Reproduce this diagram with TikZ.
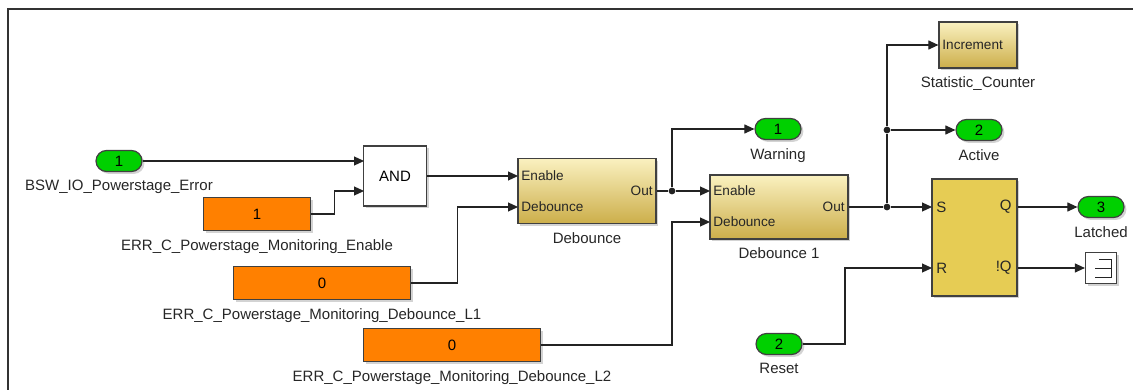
\documentclass[tikz,border=0pt]{standalone}
\usepackage{fontspec}
\setmainfont{Liberation Sans}
\usetikzlibrary{arrows.meta, positioning, calc, shadows}
\definecolor{inpfill}{RGB}{0,208,0}
\definecolor{cstfill}{RGB}{255,128,0}
\definecolor{blktop}{RGB}{250,241,192}
\definecolor{blkbot}{RGB}{204,174,74}
\definecolor{srfill}{RGB}{230,204,84}
\definecolor{sigline}{RGB}{35,35,35}

\begin{document}
\begin{tikzpicture}[
  x=0.5pt, y=-0.5pt,
  font=\fontsize{7.5}{9}\selectfont,
  shd/.style={drop shadow={shadow xshift=1.2pt, shadow yshift=-1.2pt, opacity=0.35}},
  blk/.style={draw=black!75, line width=0.6pt, inner sep=0pt, shd},
  inport/.style={blk, fill=inpfill, rounded corners=5.25pt, minimum width=23pt, minimum height=10.5pt},
  cst/.style={blk, fill=cstfill, minimum height=16.5pt},
  gate/.style={blk, fill=white, minimum width=31.5pt, minimum height=30pt},
  sub/.style={blk, top color=blktop, bottom color=blkbot},
  lbl/.style={inner sep=0pt, text=black!85},
  port/.style={inner sep=0pt, font=\fontsize{6.8}{8}\selectfont, text=black!85},
  sig/.style={draw=sigline, line width=0.55pt, -{Triangle[length=5pt, width=4.5pt]}},
  wire/.style={draw=sigline, line width=0.55pt},
  dot/.style={circle, fill=sigline, inner sep=0pt, minimum size=3.4pt},
  node distance=4pt,
]
\useasboundingbox (0,0) rectangle (1133,390);
\draw[black!80, line width=1pt] (8,390) -- (8,9) -- (1133,9);

% sources
\node[inport] (in1) at (119,161) {1};
\node[lbl, below=4pt of in1] (in1lbl) {BSW\_IO\_Powerstage\_Error};
\node[cst, minimum width=53.5pt] (c1) at (257,214) {1};
\node[lbl, below=4pt of c1] (c1lbl) {ERR\_C\_Powerstage\_Monitoring\_Enable};
\node[cst, minimum width=88.5pt] (c2) at (322,283) {0};
\node[lbl, below=4pt of c2] (c2lbl) {ERR\_C\_Powerstage\_Monitoring\_Debounce\_L1};
\node[cst, minimum width=88.5pt] (c3) at (452,345) {0};
\node[lbl, below=4pt of c3] (c3lbl) {ERR\_C\_Powerstage\_Monitoring\_Debounce\_L2};
\node[inport] (rst) at (779,344) {2};
\node[lbl, below=4pt of rst] (rstlbl) {Reset};

% logic
\node[gate] (and) at (395,176) {AND};
\coordinate (andA) at (364,161);
\coordinate (andB) at (364,191);

\node[sub, minimum width=69pt, minimum height=32.5pt] (deb) at (587,191) {};
\node[lbl, below=4pt of deb] (deblbl) {Debounce};
\node[port, anchor=west] (debEnT) at (521,176) {Enable};
\node[port, anchor=west] (debDbT) at (521,207) {Debounce};
\node[port, anchor=east] (debOutT) at (653,191) {Out};
\coordinate (debEn) at (518,176);
\coordinate (debDb) at (518,207);

\node[sub, minimum width=69pt, minimum height=32pt] (db1) at (779,207) {};
\node[lbl, below=4pt of db1] (db1lbl) {Debounce 1};
\node[port, anchor=west] (db1EnT) at (713,191) {Enable};
\node[port, anchor=west] (db1DbT) at (713,222) {Debounce};
\node[port, anchor=east] (db1OutT) at (845,207) {Out};
\coordinate (db1En) at (710,191);
\coordinate (db1Db) at (710,222);

\node[sub, minimum width=39pt, minimum height=23pt] (cnt) at (978,45) {};
\node[port, anchor=west] (cntT) at (942,45) {Increment};
\node[lbl, below=4pt of cnt] (cntlbl) {Statistic\_Counter};

\node[blk, fill=srfill, minimum width=42.5pt, minimum height=58.5pt] (sr) at (974.5,237.5) {};
\coordinate (srS) at (932,207);
\coordinate (srR) at (932,268);
\node[lbl, anchor=west] (srST) at (936,207) {S};
\node[lbl, anchor=west] (srRT) at (936,268) {R};
\node[lbl, anchor=east] (srQT) at (1012,207) {Q};
\node[lbl, anchor=east] (srNQT) at (1012,268) {!Q};

% sinks
\node[inport] (warn) at (778,129) {1};
\node[lbl, below=4pt of warn] (warnlbl) {Warning};
\node[inport] (act) at (979,130) {2};
\node[lbl, below=4pt of act] (actlbl) {Active};
\node[inport] (latch) at (1101,207) {3};
\node[lbl, below=4pt of latch] (latchlbl) {Latched};
\node[blk, fill=white, minimum width=15.5pt, minimum height=15.5pt] (term) at (1101,268) {};
\begin{scope}[shift={(term.center)}]
  \draw[sigline, line width=0.5pt] (-2,-9) -- (10,-9) -- (10,9) -- (-6,9);
  \draw[sigline, line width=0.5pt] (-6,0) -- (10,0);
\end{scope}

% branch points
\node[dot] (j1) at (672,191) {};
\node[dot] (j2) at (887,207) {};
\node[dot] (j3) at (887,130) {};

% signals
\draw[sig] (in1) -- (andA);
\draw[sig] (c1.east) -- ++(23,0) |- (andB);
\draw[sig] (and) -- (debEn);
\draw[sig] (c2.east) -- ++(46,0) |- (debDb);
\draw[wire] (deb) -- (j1);
\draw[sig] (j1) -- (db1En);
\draw[sig] (j1) |- (warn);
\draw[sig] (c3) -- (c3 -| j1) |- (db1Db);
\draw[wire] (db1) -- (j2);
\draw[sig] (j2) -- (srS);
\draw[wire] (j2) -- (j3);
\draw[sig] (j3) -- (act);
\draw[sig] (j3) |- (cnt);
\draw[sig] (rst) -- ++(66,0) |- (srR);
\draw[sig] (sr.east |- srS) -- (latch);
\draw[sig] (sr.east |- srR) -- (term);
\end{tikzpicture}
\end{document}
